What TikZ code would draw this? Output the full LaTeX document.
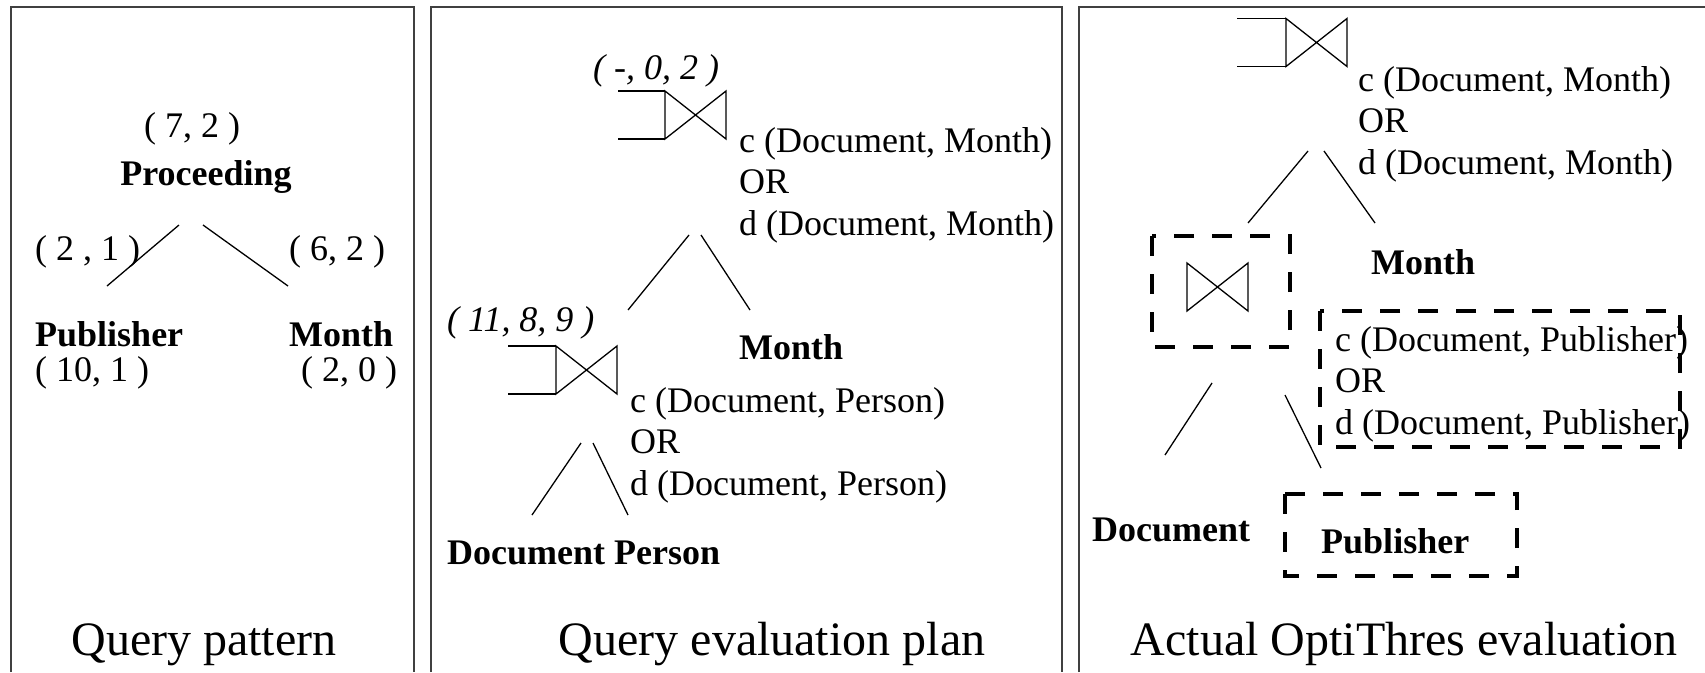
\documentclass[tikz,border=0pt]{standalone}
\usepackage{fontspec}
\setmainfont{Liberation Serif}
\begin{document}
\begin{tikzpicture}[x=1pt,y=-1pt,
  lbl/.style={inner sep=0pt,anchor=west,font=\fontsize{36}{41.5}\selectfont},
  bold/.style={lbl,font=\fontsize{36}{41.5}\selectfont\bfseries},
  ital/.style={lbl,font=\fontsize{36}{41.5}\selectfont\itshape},
  multi/.style={lbl,align=left},
  title/.style={inner sep=0pt,anchor=base,font=\fontsize{48}{56}\selectfont},
  panel/.style={draw=black!75,line width=2pt},
  edge/.style={line width=1.3pt},
  hlbox/.style={line width=4pt,dash pattern=on 20pt off 18pt},
  joinsym/.pic={\draw[edge] (0,0)--(0,48)--(61,0)--(61,48)--cycle;}
]
\useasboundingbox (0,0) rectangle (1705,672);
% panels
\draw[panel] (11,672)--(11,6.5)--(414,6.5)--(414,672);
\draw[panel] (431,672)--(431,6.5)--(1062,6.5)--(1062,672);
\draw[panel] (1079,672)--(1079,6.5)--(1705,6.5);

% ---------- panel 1 ----------
\node[lbl,anchor=center] (p72) at (192,129) {( 7, 2 )};
\node[bold,anchor=center] (proc) at (206,177) {Proceeding};
\node[lbl] (p21) at (35,252) {( 2 , 1 )};
\node[lbl] (p62) at (289,252) {( 6, 2 )};
\node[bold] (pub) at (35,334) {Publisher};
\node[bold] (mon) at (289,334) {Month};
\node[lbl] (p101) at (35,373) {( 10, 1 )};
\node[lbl] (p20) at (301,373) {( 2, 0 )};
\coordinate (a1) at (179,225); \coordinate (a2) at (107,286);
\coordinate (b1) at (203,225); \coordinate (b2) at (288,286);
\draw[edge] (a1)--(a2);
\draw[edge] (b1)--(b2);
\node[title] (t1) at (204,655) {Query pattern};

% ---------- panel 2 ----------
\node[ital] (q1) at (593,71) {( -, 0, 2 )};
\coordinate (j1a) at (618,91); \coordinate (j1b) at (618,139);
\coordinate (j1c) at (665,91); \coordinate (j1d) at (665,139);
\draw[edge] (j1a)--(j1c) (j1b)--(j1d);
\pic at (j1c) {joinsym};
\node[multi] (c1) at (739,185) {c (Document, Month)\\OR\\d (Document, Month)};
\coordinate (e1) at (689,235); \coordinate (e2) at (628,310);
\coordinate (f1) at (701,235); \coordinate (f2) at (750,310);
\draw[edge] (e1)--(e2);
\draw[edge] (f1)--(f2);
\node[ital] (q2) at (447,323) {( 11, 8, 9 )};
\node[bold] (mon2) at (739,347) {Month};
\coordinate (j2a) at (508,346); \coordinate (j2b) at (508,394);
\coordinate (j2c) at (556,346); \coordinate (j2d) at (556,394);
\draw[edge] (j2a)--(j2c) (j2b)--(j2d);
\pic at (j2c) {joinsym};
\node[multi] (c2) at (630,445) {c (Document, Person)\\OR\\d (Document, Person)};
\coordinate (g1) at (581,443); \coordinate (g2) at (532,515);
\coordinate (h1) at (593,443); \coordinate (h2) at (628,515);
\draw[edge] (g1)--(g2);
\draw[edge] (h1)--(h2);
\node[bold] (dp) at (447,553) {Document Person};
\node[title] (t2) at (772,655) {Query evaluation plan};

% ---------- panel 3 ----------
\coordinate (j3a) at (1237,18.5); \coordinate (j3b) at (1237,66.5);
\coordinate (j3c) at (1286,18.5); \coordinate (j3d) at (1286,66.5);
\draw[edge] (j3a)--(j3c) (j3b)--(j3d);
\pic at (j3c) {joinsym};
\node[multi] (c3) at (1358,124) {c (Document, Month)\\OR\\d (Document, Month)};
\coordinate (k1) at (1308,151); \coordinate (k2) at (1248,223);
\coordinate (l1) at (1324,151); \coordinate (l2) at (1375,223);
\draw[edge] (k1)--(k2);
\draw[edge] (l1)--(l2);
\draw[hlbox] (1152,236) rectangle (1290,347);
\pic at (1187,263) {joinsym};
\node[bold] (mon3) at (1371,262) {Month};
\draw[hlbox] (1320,311) rectangle (1680,447);
\node[multi] (c4) at (1335,384) {c (Document, Publisher)\\OR\\d (Document, Publisher)};
\coordinate (m1) at (1212,383); \coordinate (m2) at (1165,455);
\coordinate (n1) at (1285,395); \coordinate (n2) at (1321,468);
\draw[edge] (m1)--(m2);
\draw[edge] (n1)--(n2);
\node[bold] (doc3) at (1092,530) {Document};
\draw[hlbox] (1285,494) rectangle (1517,576);
\node[bold] (pub3) at (1321,541) {Publisher};
\node[title] (t3) at (1404,655) {Actual OptiThres evaluation};
\end{tikzpicture}
\end{document}
